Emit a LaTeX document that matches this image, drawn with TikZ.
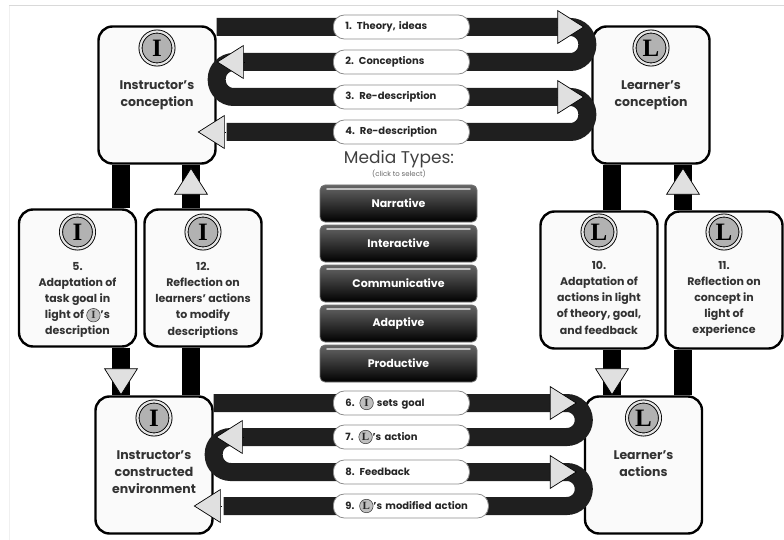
\documentclass[tikz,border=0pt]{standalone}
\usepackage{fontspec}
\setmainfont{Poppins}
\newfontfamily\serifbadge{Liberation Serif}
\usetikzlibrary{arrows.meta, positioning}
\tikzstyle{bigbox} = [rectangle, rounded corners=14pt, minimum width=117pt, minimum height=137pt, draw=black, line width=2.4pt, fill=black!2]
\tikzstyle{badge} = [circle, minimum size=33pt, inner sep=0pt, draw=black, line width=0.9pt, double=black!10, double distance=2.2pt, fill=black!30, font=\serifbadge\bfseries\fontsize{25}{25}\selectfont]
\tikzstyle{minibadge} = [circle, text width=, minimum size=13.5pt, inner sep=0pt, draw=black!80, line width=0.5pt, fill=black!25, font=\serifbadge\bfseries\fontsize{11}{11}\selectfont]
\tikzstyle{title} = [align=center, text=black!80, font=\bfseries\fontsize{12.5}{17}\selectfont]
\tikzstyle{caption} = [align=center, text=black!80, font=\bfseries\fontsize{11}{16.1}\selectfont]
\tikzstyle{pill} = [rectangle, rounded corners=11pt, minimum height=24pt, text width=112pt, inner xsep=12pt, align=left, anchor=west, draw=black!45, line width=0.8pt, fill=white, text=black!85, font=\bfseries\fontsize{10}{10}\selectfont]
\tikzstyle{media} = [rectangle, rounded corners=5pt, minimum width=157pt, minimum height=37pt, draw=black!55, line width=0.8pt, top color=black!60, bottom color=black, text=white, font=\bfseries\fontsize{11}{11}\selectfont, path picture={\draw[black!25, line width=1.6pt, line cap=round] ([xshift=7pt,yshift=-4pt]path picture bounding box.north west) -- ([xshift=-7pt,yshift=-4pt]path picture bounding box.north east);}]
\tikzstyle{band} = [line width=18pt, draw=black!88, rounded corners=17pt]
\tikzstyle{pole} = [line width=18pt, draw=black]
\tikzstyle{head} = [draw=black, line width=0.7pt, -{Triangle[length=27pt, width=34pt, fill=black!12]}]
\newcommand{\inbadge}[1]{\tikz[baseline=(mb.base)] \node (mb) [minibadge] {#1};}

\begin{document}
\begin{tikzpicture}[x=1pt, y=-1pt, node distance=40pt]
\useasboundingbox (0,0) rectangle (784,540);
\draw[black!15, line width=1pt] (9,6) -- (784,6);
\draw[black!6, line width=1pt] (9,6) -- (9,540);

% Rows and poles
\coordinate (r1) at (0,27);
\coordinate (r2) at (0,62);
\coordinate (r3) at (0,97);
\coordinate (r4) at (0,132);
\coordinate (r6) at (0,403);
\coordinate (r7) at (0,437);
\coordinate (r8) at (0,472);
\coordinate (r9) at (0,506);
\coordinate (pa) at (121,0);
\coordinate (pb) at (191,0);
\coordinate (pc) at (612,0);
\coordinate (pd) at (683,0);

% Boxes
\node (ic) [bigbox] at (157,95) {};
\node (lc) [bigbox] at (651,95) {};
\node (ice) [bigbox] at (154,465) {};
\node (la) [bigbox] at (643.5,465) {};
\node (s5) [bigbox] at (77.5,278) {};
\node (s12) [bigbox] at (203,278) {};
\node (s10) [bigbox] at (599,280) {};
\node (s11) [bigbox] at (724,280) {};

\node (icb) [badge, node distance=47pt, above of=ic] {I};
\node (lcb) [badge, node distance=47pt, above of=lc] {L};
\node (iceb) [badge, node distance=47pt, above of=ice] {I};
\node (lab) [badge, node distance=47pt, above of=la] {L};
\node (s5b) [badge, node distance=46pt, above of=s5] {I};
\node (s12b) [badge, node distance=46pt, above of=s12] {I};
\node (s10b) [badge, node distance=48pt, above of=s10] {L};
\node (s11b) [badge, node distance=48pt, above of=s11] {L};

\node (ict) [title, below=12pt of icb] {Instructor's\\conception};
\node (lct) [title, below=12pt of lcb] {Learner's\\conception};
\node (icet) [title, below=12pt of iceb] {Instructor's\\constructed\\environment};
\node (lat) [title, below=12pt of lab] {Learner's\\actions};
\node (s5t) [caption, below=10pt of s5b] {5.\\Adaptation of\\task goal in\\light of \inbadge{I}'s\\description};
\node (s12t) [caption, below=10pt of s12b] {12.\\Reflection on\\learners' actions\\to modify\\descriptions};
\node (s10t) [caption, below=9pt of s10b] {10.\\Adaptation of\\actions in light\\of theory, goal,\\and feedback};
\node (s11t) [caption, below=9pt of s11b] {11.\\Reflection on\\concept in\\light of\\experience};

% Poles
\draw[pole] (ic.south -| pa) -- (s5.north -| pa);
\draw[pole] (s5.south -| pa) -- (ice.north -| pa);
\draw[pole] (ice.north -| pb) -- (s12.south -| pb);
\draw[pole] (s12.north -| pb) -- (ic.south -| pb);
\draw[pole] (lc.south -| pc) -- (s10.north -| pc);
\draw[pole] (s10.south -| pc) -- (la.north -| pc);
\draw[pole] (la.north -| pd) -- (s11.south -| pd);
\draw[pole] (s11.north -| pd) -- (lc.south -| pd);

% Bands
\draw[band] (ic.east |- r1) -- ([xshift=-4pt]lc.west |- r1) -- ([xshift=-4pt]lc.west |- r2) -- (ic.east |- r2) -- (ic.east |- r3) -- ([xshift=-4pt]lc.west |- r3) -- ([xshift=-4pt]lc.west |- r4) -- ([xshift=10pt]ic.east |- r4);
\draw[band] (ice.east |- r6) -- (la.west |- r6) -- (la.west |- r7) -- (ice.east |- r7) -- (ice.east |- r8) -- (la.west |- r8) -- (la.west |- r9) -- ([xshift=10pt]ice.east |- r9);

% Labels
\node (p1) [pill] at (333,27) {1. Theory, ideas};
\node (p2) [pill] at (333,62) {2. Conceptions};
\node (p3) [pill] at (333,97) {3. Re-description};
\node (p4) [pill] at (333,132) {4. Re-description};
\node (p6) [pill] at (333,403) {6. \inbadge{I} sets goal};
\node (p7) [pill] at (333,437) {7. \inbadge{L}'s action};
\node (p8) [pill] at (333,472) {8. Feedback};
\node (p9) [pill, text width=131pt] at (333,506) {9. \inbadge{L}'s modified action};

% Arrows
\draw[head] ([xshift=-34pt]lc.west |- r1) -- ([xshift=-7pt]lc.west |- r1);
\draw[head] ([xshift=27pt]ic.east |- r2) -- (ic.east |- r2);
\draw[head] ([xshift=-34pt]lc.west |- r3) -- ([xshift=-7pt]lc.west |- r3);
\draw[head] ([xshift=8pt]ic.east |- r4) -- ([xshift=-19pt]ic.east |- r4);
\draw[head] ([xshift=-34pt]la.west |- r6) -- ([xshift=-7pt]la.west |- r6);
\draw[head] ([xshift=29pt]ice.east |- r7) -- ([xshift=2pt]ice.east |- r7);
\draw[head] ([xshift=-34pt]la.west |- r8) -- ([xshift=-7pt]la.west |- r8);
\draw[head] ([xshift=7pt]ice.east |- r9) -- ([xshift=-20pt]ice.east |- r9);
\draw[head] ([yshift=29pt]ice.north -| pa) -- (ice.north -| pa);
\draw[head] ([yshift=-32pt]ic.south -| pb) -- ([yshift=-3pt]ic.south -| pb);
\draw[head] ([yshift=29pt]la.north -| pc) -- (la.north -| pc);
\draw[head] ([yshift=-32pt]lc.south -| pd) -- ([yshift=-3pt]lc.south -| pd);

% Media types
\node (mt) [text=black!75, font=\fontsize{17}{17}\selectfont] at (399,159) {Media Types:};
\node (cs) [text=black!60, font=\fontsize{7}{7}\selectfont, node distance=15pt, below of=mt] {(click to select)};
\node (narr) [media] at (398.5,203.5) {Narrative};
\node (inter) [media, below of=narr] {Interactive};
\node (comm) [media, below of=inter] {Communicative};
\node (adap) [media, below of=comm] {Adaptive};
\node (prod) [media, below of=adap] {Productive};
\end{tikzpicture}
\end{document}
